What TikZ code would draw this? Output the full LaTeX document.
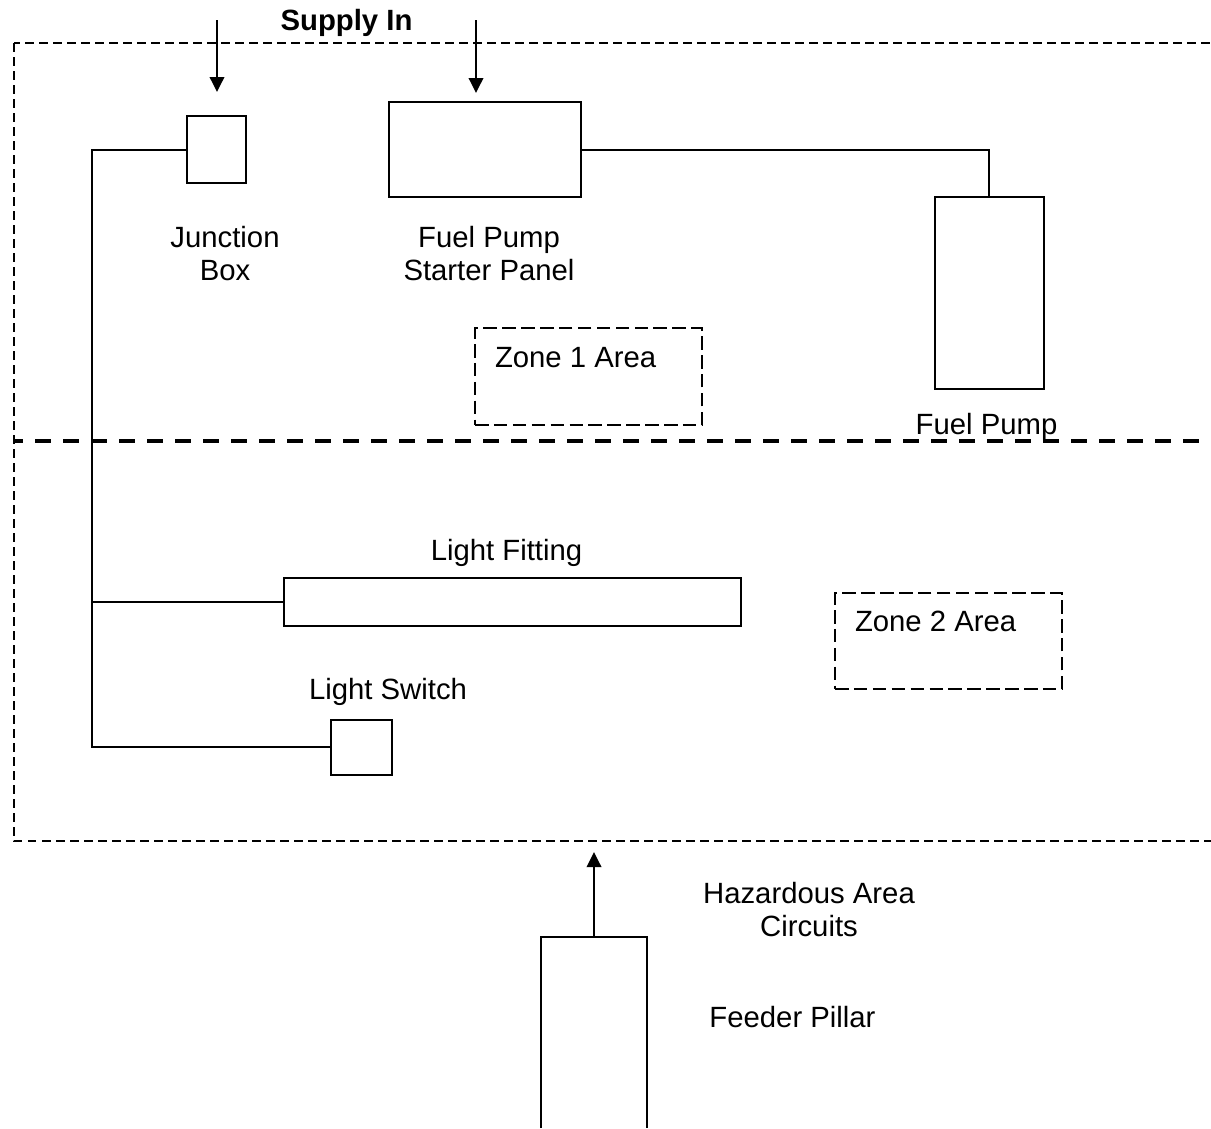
\documentclass[tikz,border=0pt]{standalone}
\usepackage{fontspec}
\setmainfont{Liberation Sans}
\usetikzlibrary{arrows.meta}
\tikzset{
  x=1pt,y=-1pt,
  wire/.style={draw=black,line width=1.9pt},
  feed/.style={wire,-{Triangle[length=15pt,width=14.5pt]}},
  boxnode/.style={draw=black,line width=1.9pt,rectangle,inner sep=0pt,outer sep=0pt},
  zonebox/.style={boxnode,line width=1.7pt,dash pattern=on 13.5pt off 5.4pt},
  thindash/.style={draw=black,line width=1.7pt,dash pattern=on 8.5pt off 5.5pt},
  thickdash/.style={draw=black,line width=4pt,dash pattern=on 16pt off 12pt,dash phase=7pt},
  lbl/.style={inner sep=0pt,outer sep=0pt,anchor=base,align=center,font=\fontsize{29.3}{33}\selectfont},
  zonelbl/.style={lbl,anchor=base west}
}
\begin{document}
\begin{tikzpicture}
\useasboundingbox (0,0) rectangle (1211,1128);
% zones
\draw[thindash,dash phase=3pt] (14,43) -- (1211,43);
\draw[thindash] (14,43) -- (14,841) -- (1211,841);
\draw[thickdash] (14,441) -- (1212,441);
% equipment
\node[boxnode,minimum width=59pt,minimum height=67pt] (jb) at (216.5,149.5) {};
\node[boxnode,minimum width=192pt,minimum height=95pt] (sp) at (485,149.5) {};
\node[boxnode,minimum width=109pt,minimum height=192pt] (fp) at (989.5,293) {};
\node[boxnode,minimum width=457pt,minimum height=48pt] (lf) at (512.5,602) {};
\node[boxnode,minimum width=61pt,minimum height=55pt] (ls) at (361.5,747.5) {};
\node[zonebox,minimum width=227pt,minimum height=97pt] (z1) at (588.5,376.5) {};
\node[zonebox,minimum width=227pt,minimum height=96pt] (z2) at (948.5,641) {};
% feeder pillar runs off the page
\coordinate (fptop) at (594,937);
\draw[wire] (541,1128) -- (541,937) -- (647,937) -- (647,1128);
% wiring
\coordinate (bus) at (92,150);
\coordinate (tee) at (92,602);
\coordinate (busend) at (92,747);
\draw[wire] (jb.west |- bus) -- (bus) -- (busend) -- (ls.west |- busend);
\draw[wire] (tee) -- (lf.west |- tee);
\draw[wire] (sp.east |- 0,150) -- (989,150) -- (989,197);
% arrows
\coordinate (a1s) at (217,20); \coordinate (a1e) at (217,92);
\coordinate (a2s) at (476,20); \coordinate (a2e) at (476,93);
\coordinate (a3e) at (594,852);
\draw[feed] (a1s) -- (a1e);
\draw[feed] (a2s) -- (a2e);
\draw[feed] (fptop) -- (a3e);
% labels
\node[lbl,font=\fontsize{29.3}{33}\selectfont\bfseries] (supply) at (346.5,30) {Supply In};
\node[lbl] (ljb) at (225,280) {Junction\\Box};
\node[lbl] (lsp) at (489,280) {Fuel Pump\\Starter Panel};
\node[lbl] (lfp) at (986.5,434) {Fuel Pump};
\node[lbl] (llf) at (506.5,560) {Light Fitting};
\node[lbl] (lls) at (388,699) {Light Switch};
\node[lbl] (lha) at (809,936) {Hazardous Area\\Circuits};
\node[lbl] (lfe) at (792.5,1027) {Feeder Pillar};
\node[zonelbl] (lz1) at (495,367) {Zone 1 Area};
\node[zonelbl] (lz2) at (855,631) {Zone 2 Area};
\end{tikzpicture}
\end{document}
